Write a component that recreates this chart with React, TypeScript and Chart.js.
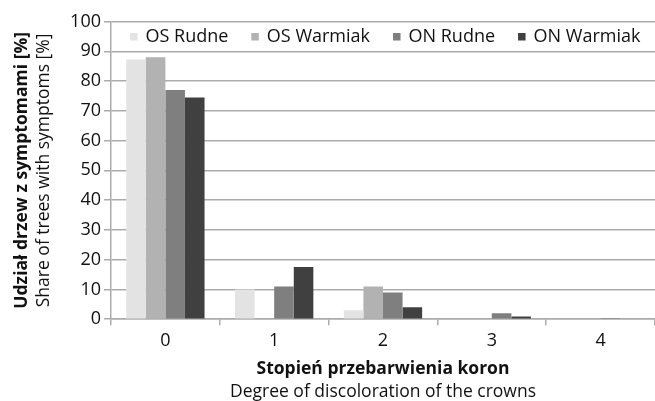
import { useEffect, useRef } from "react";
import { Chart, registerables } from "chart.js";

Chart.register(...registerables);

const categories = ["0", "1", "2", "3", "4"];
const seriesNames = ["OS Rudne", "OS Warmiak", "ON Rudne", "ON Warmiak"];
const osRudne = [87.2, 10, 3, 0, 0];
const osWarmiak = [88, 0, 11, 0, 0];
const onRudne = [77, 11, 9, 2, 0.4];
const onWarmiak = [74.5, 17.5, 4, 0.9, 0];
const seriesColors = ["#e3e3e3", "#b2b2b2", "#7f7f7f", "#404040"];
const yMin = 0;
const yMax = 100;
const yStep = 10;
const yTitleBold = "Udział drzew z symptomami [%]";
const yTitleNormal = "Share of trees with symptoms [%]";
const xTitleBold = "Stopień przebarwienia koron";
const xTitleNormal = "Degree of discoloration of the crowns";

const FONT = "'Open Sans', sans-serif";
const GRID = "#ababab";
const TITLE_SIZE = 17.5;
const TICK_SIZE = 18;

const insideLegend = {
  id: "insideLegend",
  afterDraw(chart: any) {
    const { ctx, chartArea } = chart;
    ctx.save();
    ctx.font = `18px ${FONT}`;
    ctx.textBaseline = "middle";
    ctx.textAlign = "left";
    let x = chartArea.left + 19;
    const y = chartArea.top + 15.5;
    chart.data.datasets.forEach((ds: any) => {
      ctx.fillStyle = ds.backgroundColor;
      ctx.fillRect(x, y - 4, 7.5, 7.5);
      x += 7.5 + 8;
      ctx.fillStyle = "#111";
      ctx.fillText(ds.label, x, y);
      x += ctx.measureText(ds.label).width + 23;
    });
    ctx.restore();
  },
};

export default function App() {
  const ref = useRef<HTMLCanvasElement | null>(null);
  useEffect(() => {
    document.body.style.margin = "0";
    const values = [osRudne, osWarmiak, onRudne, onWarmiak];
    const chart = new Chart(ref.current as HTMLCanvasElement, {
      type: "bar",
      data: {
        labels: categories,
        datasets: seriesNames.map((name, i) => ({
          label: name,
          data: values[i],
          backgroundColor: seriesColors[i],
          borderWidth: 0,
          barPercentage: 1,
          categoryPercentage: 0.72,
          xAxisID: "x",
          yAxisID: "y",
        })),
      },
      options: {
        animation: false,
        responsive: true,
        maintainAspectRatio: false,
        layout: { padding: { top: 21.5, right: 0, left: 11.5, bottom: 0 } },
        plugins: {
          legend: { display: false },
          tooltip: { enabled: false },
        },
        scales: {
          x: {
            type: "category",
            position: "bottom",
            grid: {
              offset: true,
              drawOnChartArea: false,
              drawTicks: true,
              tickLength: 6,
              color: GRID,
              lineWidth: 1.5,
            },
            border: { color: GRID, width: 1.5 },
            ticks: { color: "#111", font: { family: FONT, size: TICK_SIZE }, padding: 4.5 },
            title: {
              display: true,
              text: xTitleBold,
              color: "#111",
              font: { family: FONT, size: TITLE_SIZE, weight: "bold" },
              padding: { top: 2.7, bottom: 2 },
            },
          },
          xb: {
            type: "linear",
            position: "bottom",
            weight: 1,
            grid: { display: false, drawTicks: false },
            border: { display: false },
            ticks: { display: false },
            title: {
              display: true,
              text: xTitleNormal,
              color: "#111",
              font: { family: FONT, size: TITLE_SIZE },
              padding: { top: 0, bottom: -1.5 },
            },
          },
          y: {
            type: "linear",
            position: "left",
            min: yMin,
            max: yMax,
            ticks: {
              stepSize: yStep,
              color: "#111",
              font: { family: FONT, size: TICK_SIZE },
              padding: 3,
            },
            grid: { color: GRID, lineWidth: 1.5, tickLength: 7 },
            border: { color: GRID, width: 1.5 },
            title: {
              display: true,
              text: yTitleNormal,
              color: "#111",
              font: { family: FONT, size: TITLE_SIZE },
              padding: { top: 0, bottom: 12.6 },
            },
          },
          yb: {
            type: "linear",
            position: "left",
            weight: 1,
            grid: { display: false, drawTicks: false },
            border: { display: false },
            ticks: { display: false },
            title: {
              display: true,
              text: yTitleBold,
              color: "#111",
              font: { family: FONT, size: TITLE_SIZE, weight: "bold" },
              padding: { top: 0, bottom: 1 },
            },
          },
        },
      },
      plugins: [insideLegend],
    } as any);
    return () => chart.destroy();
  }, []);
  return (
    <div style={{ width: 655, height: 401, position: "relative" }}>
      <canvas ref={ref} />
    </div>
  );
}
